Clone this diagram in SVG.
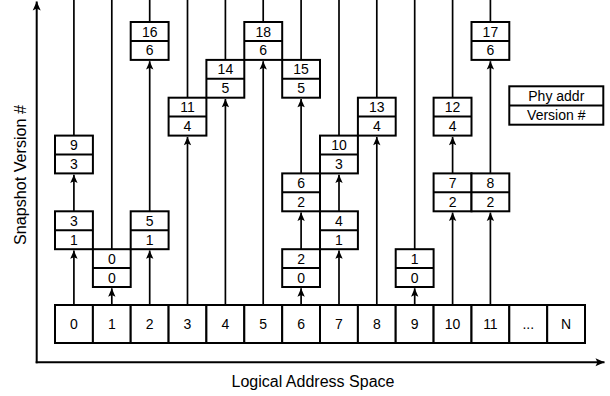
<svg xmlns="http://www.w3.org/2000/svg" width="610" height="396" viewBox="0 0 610 396">
<style>
text{font-family:"Liberation Sans",Arial,sans-serif;font-size:14px;fill:#000;text-anchor:middle}
.b{fill:#fff;stroke:#000;stroke-width:2}
.m{stroke:#000;stroke-width:2}
.c{stroke:#000;stroke-width:1.7;fill:none}
.a{stroke:#000;stroke-width:1.7;fill:none;marker-end:url(#ah)}
.ax{stroke:#000;stroke-width:2;fill:none;marker-end:url(#ah2)}
.lbl{font-size:16px}
</style>
<defs>
<marker id="ah" markerUnits="userSpaceOnUse" markerWidth="10" markerHeight="10" viewBox="-8 -4 9 8" refX="0" refY="0" orient="auto">
<path d="M0,0 L-7.5,-3.3 L-6,0 L-7.5,3.3 Z" fill="#000"/>
</marker>
<marker id="ah2" markerUnits="userSpaceOnUse" markerWidth="12" markerHeight="10" viewBox="-10 -5 11 10" refX="0" refY="0" orient="auto">
<path d="M0,0 L-9,-4 L-7,0 L-9,4 Z" fill="#000"/>
</marker>
</defs>

<g id="axes">
<line class="ax" x1="36.7" y1="363.3" x2="36.7" y2="1.5"/>
<line class="ax" x1="35.7" y1="362.3" x2="604.5" y2="362.3"/>
<text class="lbl" transform="translate(25.5,175) rotate(-90)" textLength="140" lengthAdjust="spacingAndGlyphs">Snapshot Version #</text>
<text class="lbl" x="313" y="386.5" textLength="163" lengthAdjust="spacingAndGlyphs">Logical Address Space</text>
</g>

<g id="connectors">
<line class="a" x1="73.9" y1="305" x2="73.9" y2="250.5"/>
<line class="a" x1="73.9" y1="211.3" x2="73.9" y2="174.7"/>
<line class="c" x1="73.9" y1="135.6" x2="73.9" y2="0"/>
<line class="a" x1="111.8" y1="305" x2="111.8" y2="288.3"/>
<line class="c" x1="111.8" y1="249.2" x2="111.8" y2="0"/>
<line class="a" x1="149.7" y1="305" x2="149.7" y2="250.5"/>
<line class="a" x1="149.7" y1="211.3" x2="149.7" y2="61.2"/>
<line class="c" x1="149.7" y1="22" x2="149.7" y2="0"/>
<line class="a" x1="187.5" y1="305" x2="187.5" y2="136.9"/>
<line class="c" x1="187.5" y1="97.7" x2="187.5" y2="0"/>
<line class="a" x1="225.4" y1="305" x2="225.4" y2="99"/>
<line class="c" x1="225.4" y1="59.9" x2="225.4" y2="0"/>
<line class="a" x1="263.2" y1="305" x2="263.2" y2="61.2"/>
<line class="c" x1="263.2" y1="22" x2="263.2" y2="0"/>
<line class="a" x1="301.1" y1="305" x2="301.1" y2="288.3"/>
<line class="a" x1="301.1" y1="249.2" x2="301.1" y2="212.6"/>
<line class="a" x1="301.1" y1="173.4" x2="301.1" y2="99"/>
<line class="c" x1="301.1" y1="59.9" x2="301.1" y2="0"/>
<line class="a" x1="339" y1="305" x2="339" y2="250.5"/>
<line class="a" x1="339" y1="211.3" x2="339" y2="174.7"/>
<line class="c" x1="339" y1="135.6" x2="339" y2="0"/>
<line class="a" x1="376.8" y1="305" x2="376.8" y2="136.9"/>
<line class="c" x1="376.8" y1="97.7" x2="376.8" y2="0"/>
<line class="a" x1="414.7" y1="305" x2="414.7" y2="288.3"/>
<line class="c" x1="414.7" y1="249.2" x2="414.7" y2="0"/>
<line class="a" x1="452.6" y1="305" x2="452.6" y2="212.6"/>
<line class="a" x1="452.6" y1="173.4" x2="452.6" y2="136.9"/>
<line class="c" x1="452.6" y1="97.7" x2="452.6" y2="0"/>
<line class="a" x1="490.4" y1="305" x2="490.4" y2="212.6"/>
<line class="a" x1="490.4" y1="173.4" x2="490.4" y2="61.2"/>
<line class="c" x1="490.4" y1="22" x2="490.4" y2="0"/>
</g>

<g id="array">
<rect class="b" x="55" y="305" width="37.9" height="38"/><text x="73.9" y="329">0</text>
<rect class="b" x="92.9" y="305" width="37.8" height="38"/><text x="111.8" y="329">1</text>
<rect class="b" x="130.7" y="305" width="37.9" height="38"/><text x="149.7" y="329">2</text>
<rect class="b" x="168.6" y="305" width="37.8" height="38"/><text x="187.5" y="329">3</text>
<rect class="b" x="206.4" y="305" width="37.9" height="38"/><text x="225.4" y="329">4</text>
<rect class="b" x="244.3" y="305" width="37.9" height="38"/><text x="263.2" y="329">5</text>
<rect class="b" x="282.2" y="305" width="37.8" height="38"/><text x="301.1" y="329">6</text>
<rect class="b" x="320" y="305" width="37.9" height="38"/><text x="339" y="329">7</text>
<rect class="b" x="357.9" y="305" width="37.8" height="38"/><text x="376.8" y="329">8</text>
<rect class="b" x="395.7" y="305" width="37.9" height="38"/><text x="414.7" y="329">9</text>
<rect class="b" x="433.6" y="305" width="37.9" height="38"/><text x="452.6" y="329">10</text>
<rect class="b" x="471.5" y="305" width="37.8" height="38"/><text x="490.4" y="329">11</text>
<rect class="b" x="509.3" y="305" width="37.9" height="38"/><text x="528.3" y="329">...</text>
<rect class="b" x="547.2" y="305" width="37.8" height="38"/><text x="566.1" y="329">N</text>
</g>

<g id="n3"><rect class="b" x="55" y="211.3" width="37.9" height="37.9"/><line class="m" x1="55" y1="230.2" x2="92.9" y2="230.2"/><text x="73.9" y="225.8">3</text><text x="73.9" y="244.7">1</text></g>
<g id="n9"><rect class="b" x="55" y="135.6" width="37.9" height="37.8"/><line class="m" x1="55" y1="154.5" x2="92.9" y2="154.5"/><text x="73.9" y="150.1">9</text><text x="73.9" y="169">3</text></g>
<g id="n0"><rect class="b" x="92.9" y="249.2" width="37.8" height="37.8"/><line class="m" x1="92.9" y1="268.1" x2="130.7" y2="268.1"/><text x="111.8" y="263.7">0</text><text x="111.8" y="282.6">0</text></g>
<g id="n5"><rect class="b" x="130.7" y="211.3" width="37.9" height="37.9"/><line class="m" x1="130.7" y1="230.2" x2="168.6" y2="230.2"/><text x="149.7" y="225.8">5</text><text x="149.7" y="244.7">1</text></g>
<g id="n16"><rect class="b" x="130.7" y="22" width="37.9" height="37.9"/><line class="m" x1="130.7" y1="40.9" x2="168.6" y2="40.9"/><text x="149.7" y="36.5">16</text><text x="149.7" y="55.4">6</text></g>
<g id="n11"><rect class="b" x="168.6" y="97.7" width="37.8" height="37.9"/><line class="m" x1="168.6" y1="116.6" x2="206.4" y2="116.6"/><text x="187.5" y="112.2">11</text><text x="187.5" y="131.1">4</text></g>
<g id="n14"><rect class="b" x="206.4" y="59.9" width="37.9" height="37.8"/><line class="m" x1="206.4" y1="78.8" x2="244.3" y2="78.8"/><text x="225.4" y="74.4">14</text><text x="225.4" y="93.3">5</text></g>
<g id="n18"><rect class="b" x="244.3" y="22" width="37.9" height="37.9"/><line class="m" x1="244.3" y1="40.9" x2="282.2" y2="40.9"/><text x="263.2" y="36.5">18</text><text x="263.2" y="55.4">6</text></g>
<g id="n2"><rect class="b" x="282.2" y="249.2" width="37.8" height="37.8"/><line class="m" x1="282.2" y1="268.1" x2="320" y2="268.1"/><text x="301.1" y="263.7">2</text><text x="301.1" y="282.6">0</text></g>
<g id="n6"><rect class="b" x="282.2" y="173.4" width="37.8" height="37.9"/><line class="m" x1="282.2" y1="192.3" x2="320" y2="192.3"/><text x="301.1" y="187.9">6</text><text x="301.1" y="206.8">2</text></g>
<g id="n15"><rect class="b" x="282.2" y="59.9" width="37.8" height="37.8"/><line class="m" x1="282.2" y1="78.8" x2="320" y2="78.8"/><text x="301.1" y="74.4">15</text><text x="301.1" y="93.3">5</text></g>
<g id="n4"><rect class="b" x="320" y="211.3" width="37.9" height="37.9"/><line class="m" x1="320" y1="230.2" x2="357.9" y2="230.2"/><text x="339" y="225.8">4</text><text x="339" y="244.7">1</text></g>
<g id="n10"><rect class="b" x="320" y="135.6" width="37.9" height="37.8"/><line class="m" x1="320" y1="154.5" x2="357.9" y2="154.5"/><text x="339" y="150.1">10</text><text x="339" y="169">3</text></g>
<g id="n13"><rect class="b" x="357.9" y="97.7" width="37.8" height="37.9"/><line class="m" x1="357.9" y1="116.6" x2="395.7" y2="116.6"/><text x="376.8" y="112.2">13</text><text x="376.8" y="131.1">4</text></g>
<g id="n1"><rect class="b" x="395.7" y="249.2" width="37.9" height="37.8"/><line class="m" x1="395.7" y1="268.1" x2="433.6" y2="268.1"/><text x="414.7" y="263.7">1</text><text x="414.7" y="282.6">0</text></g>
<g id="n7"><rect class="b" x="433.6" y="173.4" width="37.9" height="37.9"/><line class="m" x1="433.6" y1="192.3" x2="471.5" y2="192.3"/><text x="452.6" y="187.9">7</text><text x="452.6" y="206.8">2</text></g>
<g id="n12"><rect class="b" x="433.6" y="97.7" width="37.9" height="37.9"/><line class="m" x1="433.6" y1="116.6" x2="471.5" y2="116.6"/><text x="452.6" y="112.2">12</text><text x="452.6" y="131.1">4</text></g>
<g id="n8"><rect class="b" x="471.5" y="173.4" width="37.8" height="37.9"/><line class="m" x1="471.5" y1="192.3" x2="509.3" y2="192.3"/><text x="490.4" y="187.9">8</text><text x="490.4" y="206.8">2</text></g>
<g id="n17"><rect class="b" x="471.5" y="22" width="37.8" height="37.9"/><line class="m" x1="471.5" y1="40.9" x2="509.3" y2="40.9"/><text x="490.4" y="36.5">17</text><text x="490.4" y="55.4">6</text></g>

<g id="legend"><rect class="b" x="509.3" y="86.3" width="94" height="38.4"/><line class="m" x1="509.3" y1="105.5" x2="603.3" y2="105.5"/><text x="556.3" y="101">Phy addr</text><text x="556.3" y="120.2">Version #</text></g>
</svg>
